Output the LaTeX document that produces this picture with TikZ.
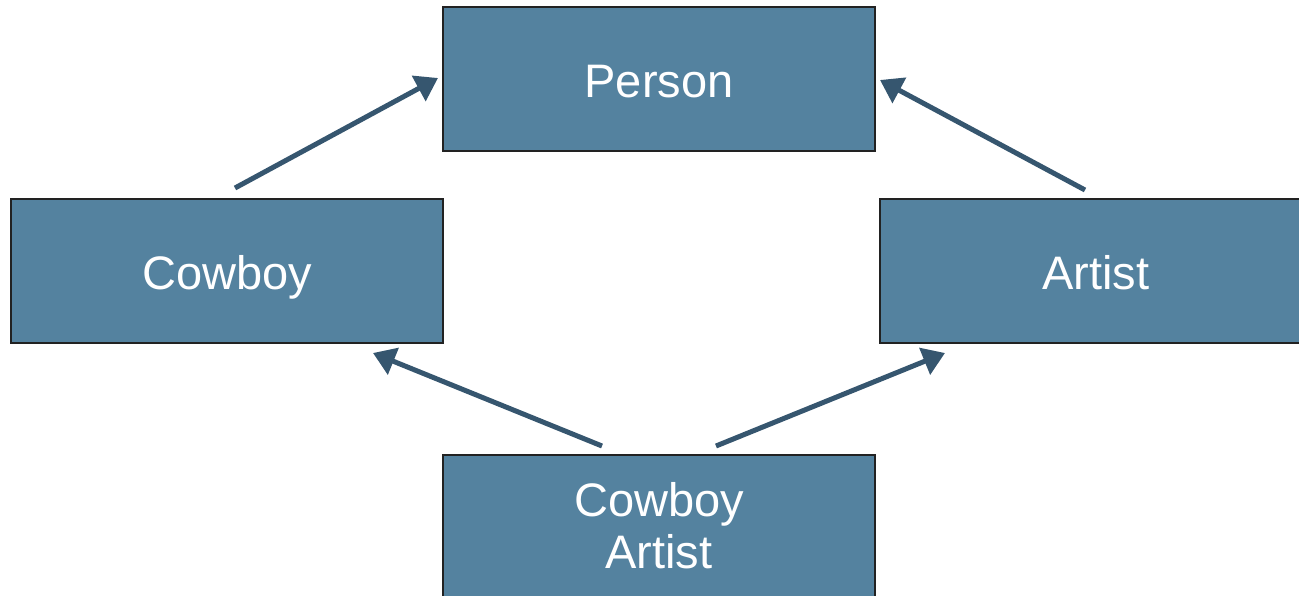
\documentclass[tikz,border=0pt]{standalone}
\usepackage{fontspec}
\setmainfont{Liberation Sans}
\usetikzlibrary{arrows.meta}
\definecolor{boxfill}{HTML}{54829F}
\definecolor{boxline}{HTML}{222222}
\definecolor{arrowc}{HTML}{36566F}
\begin{document}
\begin{tikzpicture}[x=1pt,y=-1pt,
  box/.style={draw=boxline,line width=1.5pt,fill=boxfill},
  lbl/.style={text=white,font=\fontsize{47}{52}\selectfont,align=center,inner sep=0pt},
  conn/.style={draw=arrowc,line width=5pt,-{Triangle[length=22pt,width=28pt]}}]
\useasboundingbox (0,0) rectangle (1299,595);
\clip (0,0) rectangle (1299,595);
\draw[box] (443,7) rectangle (875,151);
\node[lbl,anchor=base] (person) at (659,97) {Person};
\draw[box] (11,199) rectangle (443,343);
\node[lbl,anchor=base] (cowboy) at (227,289) {Cowboy};
\draw[box] (880,199) rectangle (1312,343);
\node[lbl,anchor=base] (artist) at (1096,289) {Artist};
\draw[box] (443,455) rectangle (875,600);
\node[lbl] (ca) at (659,526) {Cowboy\\Artist};
\coordinate (s1) at (235,188); \coordinate (e1) at (438,78);
\coordinate (s2) at (1085,190); \coordinate (e2) at (880,80);
\coordinate (s3) at (602,446); \coordinate (e3) at (373,353);
\coordinate (s4) at (716,446); \coordinate (e4) at (945,353);
\draw[conn] (s1) -- (e1);
\draw[conn] (s2) -- (e2);
\draw[conn] (s3) -- (e3);
\draw[conn] (s4) -- (e4);
\end{tikzpicture}
\end{document}
